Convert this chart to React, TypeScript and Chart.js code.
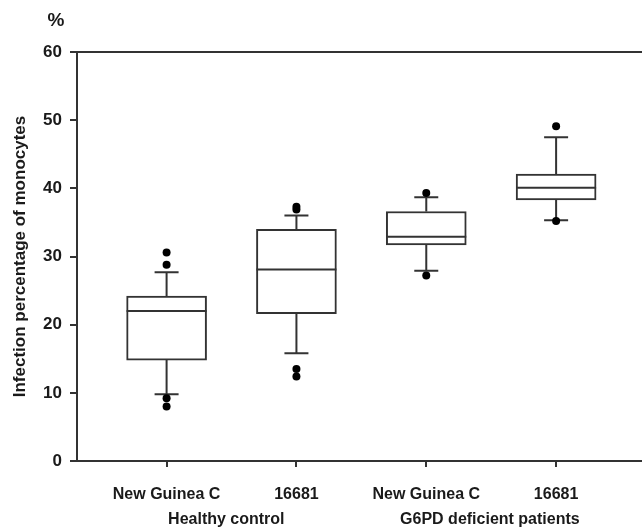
import React, { useEffect, useRef } from 'react';
import { Chart, registerables } from 'chart.js';

Chart.register(...registerables);

// ---- data ----
const positions = [1, 2, 3, 4];
const categories = ['New Guinea C', '16681', 'New Guinea C', '16681'];
const groupLabels = ['Healthy control', 'G6PD deficient patients'];
const groupPositions = [1.46, 3.49];
const lowerWhisker = [9.8, 15.8, 27.9, 35.3];
const q1 = [14.8, 21.6, 31.7, 38.3];
const median = [22.0, 28.1, 32.9, 40.1];
const q3 = [24.2, 34.0, 36.6, 42.1];
const upperWhisker = [27.7, 36.0, 38.7, 47.5];
const outliersA = [30.6, 28.8, 9.2, 8.0];
const outliersB = [37.3, 36.9, 13.5, 12.4];
const outliersC = [39.3, 27.2];
const outliersD = [49.1, 35.2];
const yTicks = [0, 10, 20, 30, 40, 50, 60];
const yTitle = 'Infection percentage of monocytes';
const unitLabel = '%';

const LINE = '#333333';
const TEXT = '#1a1a1a';
const FONT = "'Liberation Sans', Arial, Helvetica, sans-serif";

const boxExtras = {
  id: 'boxExtras',
  afterDatasetDraw(chart: any, args: any) {
    if (args.meta.type !== 'bar') return;
    const { ctx, scales } = chart;
    const x = scales.x;
    const y = scales.y;
    ctx.save();
    ctx.strokeStyle = LINE;
    ctx.lineWidth = 2;
    positions.forEach((p, i) => {
      const el = args.meta.data[i];
      const cx = x.getPixelForValue(p);
      const half = el.width / 2;
      const capHalf = 12;
      // median
      const my = y.getPixelForValue(median[i]);
      ctx.beginPath();
      ctx.moveTo(cx - half, my);
      ctx.lineTo(cx + half, my);
      ctx.stroke();
      // whiskers
      const pairs: [number, number][] = [
        [q3[i], upperWhisker[i]],
        [q1[i], lowerWhisker[i]],
      ];
      pairs.forEach(([from, to]) => {
        const y0 = y.getPixelForValue(from);
        const y1 = y.getPixelForValue(to);
        ctx.beginPath();
        ctx.moveTo(cx, y0);
        ctx.lineTo(cx, y1);
        ctx.moveTo(cx - capHalf, y1);
        ctx.lineTo(cx + capHalf, y1);
        ctx.stroke();
      });
    });
    ctx.restore();
  },
  afterDraw(chart: any) {
    const { ctx } = chart;
    ctx.save();
    ctx.fillStyle = TEXT;
    ctx.font = `bold 19px ${FONT}`;
    ctx.textAlign = 'center';
    ctx.textBaseline = 'middle';
    ctx.fillText(unitLabel, 56, 21);
    ctx.restore();
  },
};

export default function App() {
  const ref = useRef<HTMLCanvasElement>(null);

  useEffect(() => {
    if (!ref.current) return;
    const allOutliers = [outliersA, outliersB, outliersC, outliersD];
    const outlierPoints = allOutliers.flatMap((arr, i) =>
      arr.map((v) => ({ x: positions[i], y: v }))
    );
    const chart = new Chart(ref.current, {
      type: 'bar',
      data: {
        datasets: [
          {
            type: 'bar',
            label: 'box',
            data: positions.map((p, i) => ({ x: p, y: [q1[i], q3[i]] })) as any,
            backgroundColor: '#ffffff',
            borderColor: LINE,
            borderWidth: 2,
            borderSkipped: false,
            barThickness: 80,
            order: 2,
          } as any,
          {
            type: 'scatter',
            label: 'outliers',
            data: outlierPoints,
            backgroundColor: '#000000',
            borderColor: '#000000',
            pointRadius: 4,
            pointBorderWidth: 0,
            order: 1,
          } as any,
        ],
      },
      plugins: [boxExtras],
      options: {
        animation: false,
        responsive: false,
        events: [],
        layout: { padding: { top: 52, right: 13, bottom: 0, left: 0 } },
        plugins: {
          legend: { display: false },
          tooltip: { enabled: false },
          title: { display: false },
        },
        scales: {
          x: {
            type: 'linear',
            position: 'bottom',
            weight: 0,
            min: 0.31,
            max: 4.7,
            offset: false,
            afterBuildTicks: (s: any) => {
              s.ticks = positions.map((v) => ({ value: v }));
            },
            afterFit: (s: any) => {
              s.height = 40;
            },
            grid: {
              display: true,
              drawOnChartArea: false,
              drawTicks: true,
              tickLength: 6,
              color: LINE,
              tickColor: LINE,
              lineWidth: 2,
              offset: false,
            },
            border: { display: true, color: LINE, width: 2 },
            ticks: {
              autoSkip: false,
              maxRotation: 0,
              minRotation: 0,
              padding: 18,
              color: TEXT,
              font: { family: FONT, size: 16, weight: 'bold' },
              callback: (v: any) => {
                const i = positions.indexOf(Number(v));
                return i >= 0 ? categories[i] : '';
              },
            },
          },
          x2: {
            type: 'linear',
            position: 'bottom',
            weight: 1,
            min: 0.31,
            max: 4.7,
            offset: false,
            afterBuildTicks: (s: any) => {
              s.ticks = groupPositions.map((v) => ({ value: v }));
            },
            afterFit: (s: any) => {
              s.height = 29;
            },
            grid: { display: false, drawTicks: false, drawOnChartArea: false },
            border: { display: false },
            ticks: {
              autoSkip: false,
              maxRotation: 0,
              minRotation: 0,
              padding: 9,
              color: TEXT,
              font: { family: FONT, size: 16, weight: 'bold' },
              callback: (v: any) => {
                const i = groupPositions.indexOf(Number(v));
                return i >= 0 ? groupLabels[i] : '';
              },
            },
          },
          y: {
            type: 'linear',
            position: 'left',
            min: 0,
            max: 60,
            afterBuildTicks: (s: any) => {
              s.ticks = yTicks.map((v) => ({ value: v }));
            },
            afterFit: (s: any) => {
              s.width = 77;
            },
            grid: {
              display: true,
              drawOnChartArea: true,
              drawTicks: true,
              tickLength: 7,
              lineWidth: 2,
              color: (c: any) => (c.tick && c.tick.value === 60 ? LINE : 'rgba(0,0,0,0)'),
              tickColor: LINE,
            },
            border: { display: true, color: LINE, width: 2 },
            ticks: {
              padding: 8,
              color: TEXT,
              font: { family: FONT, size: 17, weight: 'bold' },
            },
            title: {
              display: true,
              text: yTitle,
              color: TEXT,
              font: { family: FONT, size: 17, weight: 'bold' },
              padding: { top: 10, bottom: 0 },
            },
          },
        },
      } as any,
    });
    return () => chart.destroy();
  }, []);

  return (
    <div style={{ position: 'absolute', left: 0, top: 0, width: 642, height: 530, overflow: 'hidden', background: '#fff' }}>
      <canvas ref={ref} width={660} height={530} style={{ display: 'block', width: 660, height: 530 }} />
    </div>
  );
}
